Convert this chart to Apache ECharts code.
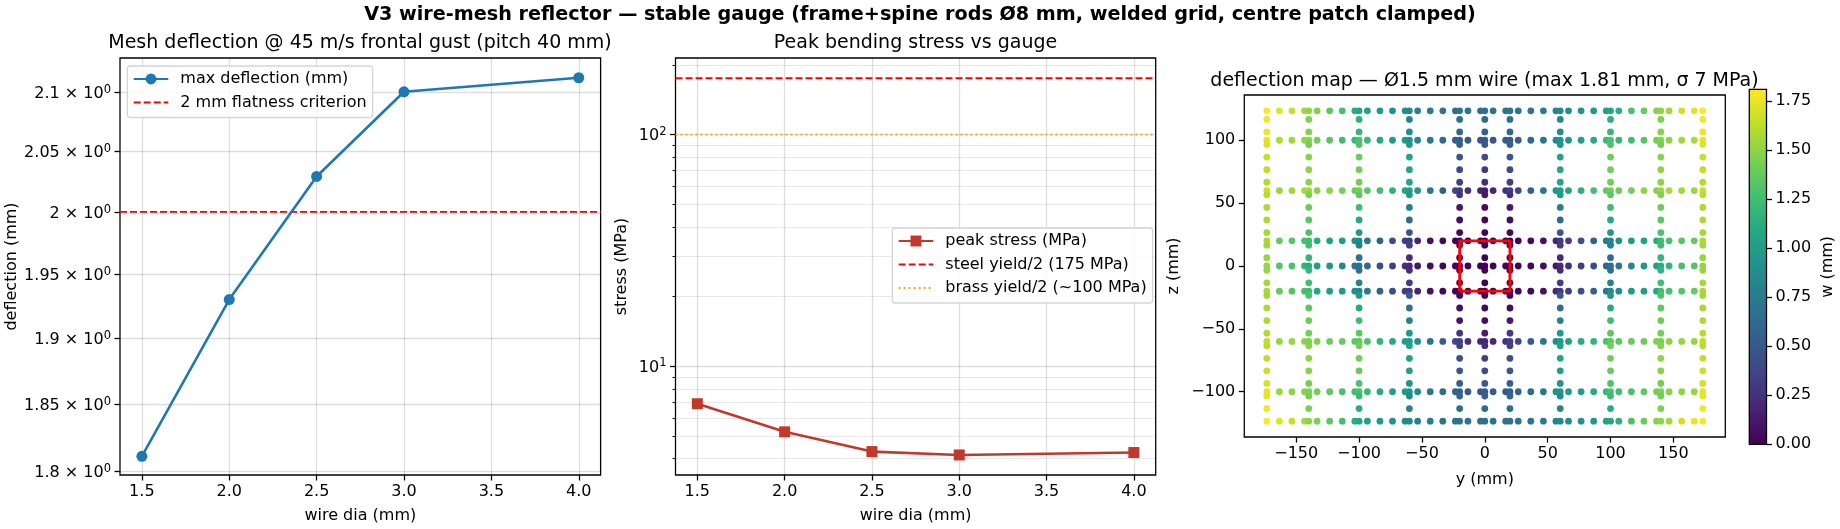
<!DOCTYPE html>
<html><head><meta charset="utf-8">
<style>html,body{margin:0;padding:0;background:#fff}#c{width:1840px;height:529px}</style>
<script src="https://cdn.jsdelivr.net/npm/echarts@6/dist/echarts.min.js"></script>
</head><body><div id="c"></div>
<script>
const wireDia=[1.5,2.0,2.5,3.0,4.0];
const maxDeflection=[1.811,1.93,2.029,2.1,2.112];
const peakStress=[6.9,5.22,4.29,4.15,4.25];
const flatnessLimit=2, steelLimit=175, brassLimit=100;
const wireTicks=[1.5,2,2.5,3,3.5,4];
const deflTicks=[1.8,1.85,1.9,1.95,2,2.05,2.1];
const stressMajor=[10,100];
const stressMinor=[4,5,6,7,8,9,20,30,40,50,60,70,80,90,200];
const mapTicksY=[-150,-100,-50,0,50,100,150];
const mapTicksZ=[-100,-50,0,50,100];
const cbTicks=[0,0.25,0.5,0.75,1,1.25,1.5,1.75];
const rowPosY=[-173.4,-163.4,-153.4,-143.4,-140,-133.4,-123.4,-113.4,-103.4,-100,-93.4,-83.4,-73.4,-63.4,-60,-53.4,-43.4,-33.4,-23.4,-20,-13.4,-3.4,0,6.6,16.6,20,26.6,36.6,46.6,56.6,60,66.6,76.6,86.6,96.6,100,106.6,116.6,126.6,136.6,140,146.6,156.6,166.6,173.4];
const rowZ=[123.4,100,60,20,0,-20,-60,-100,-123.4];
const rowW=[
[1.81,1.72,1.65,1.55,1.5,1.45,1.35,1.27,1.12,1.08,1.03,.97,.92,.87,.85,.8,.75,.71,.69,.68,.68,.67,.67,.67,.68,.68,.69,.71,.75,.8,.85,.87,.92,.97,1.03,1.08,1.14,1.29,1.38,1.47,1.5,1.55,1.68,1.75,1.81],
[1.75,1.58,1.55,1.5,1.48,1.42,1.33,1.25,1.2,1.3,1.22,1.1,1.0,.95,.92,.85,.72,.62,.55,.52,.5,.48,.48,.48,.5,.52,.55,.62,.72,.85,.92,.95,1.0,1.1,1.22,1.3,1.2,1.25,1.33,1.42,1.48,1.5,1.55,1.58,1.75],
[1.66,1.52,1.55,1.58,1.55,1.48,1.5,1.42,1.4,1.42,1.35,1.27,1.15,1.05,1.0,.95,.72,.55,.38,.33,.25,.18,.15,.18,.25,.33,.38,.55,.72,.95,1.0,1.05,1.15,1.27,1.35,1.42,1.4,1.42,1.5,1.48,1.55,1.58,1.55,1.52,1.66],
[1.58,1.38,1.33,1.28,1.25,1.12,1.05,.98,.9,.85,.72,.55,.42,.32,.3,.18,.08,.04,.02,.02,.01,0,0,0,.01,.02,.02,.04,.08,.18,.3,.32,.42,.55,.72,.85,.9,.98,1.05,1.12,1.25,1.28,1.33,1.38,1.58],
[1.52,1.32,1.28,1.18,1.12,1.02,.95,.85,.72,.65,.58,.42,.32,.25,.22,.12,.06,.03,.02,.02,.01,0,0,0,.01,.02,.02,.03,.06,.12,.22,.25,.32,.42,.58,.65,.72,.85,.95,1.02,1.12,1.18,1.28,1.32,1.52],
[1.58,1.38,1.33,1.28,1.25,1.08,1.02,.98,.9,.85,.72,.55,.42,.32,.3,.18,.08,.04,.02,.02,.01,0,0,0,.01,.02,.02,.04,.08,.18,.3,.32,.42,.55,.72,.85,.9,.98,1.02,1.08,1.25,1.28,1.33,1.38,1.58],
[1.63,1.52,1.52,1.5,1.45,1.45,1.4,1.38,1.35,1.35,1.3,1.18,1.1,1.0,.98,.88,.7,.52,.38,.35,.25,.2,.18,.2,.25,.35,.38,.52,.7,.88,.98,1.0,1.1,1.18,1.3,1.35,1.35,1.38,1.4,1.45,1.45,1.5,1.52,1.52,1.63],
[1.75,1.52,1.5,1.48,1.45,1.42,1.35,1.28,1.25,1.28,1.2,1.1,1.02,.98,.95,.88,.72,.65,.58,.55,.52,.5,.5,.5,.52,.55,.58,.65,.72,.88,.95,.98,1.02,1.1,1.2,1.28,1.25,1.28,1.35,1.42,1.45,1.48,1.5,1.52,1.75],
[1.81,1.72,1.65,1.55,1.5,1.45,1.35,1.27,1.12,1.08,1.03,.97,.92,.87,.85,.8,.75,.71,.69,.68,.68,.67,.67,.67,.68,.68,.69,.71,.75,.8,.85,.87,.92,.97,1.03,1.08,1.14,1.29,1.38,1.47,1.5,1.55,1.68,1.75,1.81]
];
const colPosZ=[116.6,106.6,96.6,86.6,76.6,66.6,56.6,46.6,36.6,26.6,16.6,6.6,-3.4,-13.4,-23.4,-33.4,-43.4,-53.4,-63.4,-73.4,-83.4,-93.4,-103.4,-113.4];
const colY=[-173.4,-140,-100,-60,-20,0,20,60,100,140,173.4];
const colW=[
[1.78,1.76,1.72,1.65,1.63,1.6,1.6,1.58,1.58,1.55,1.55,1.52,1.52,1.55,1.55,1.57,1.58,1.6,1.62,1.64,1.66,1.7,1.74,1.78],
[1.45,1.47,1.42,1.48,1.5,1.5,1.45,1.4,1.35,1.3,1.25,1.18,1.18,1.25,1.3,1.35,1.4,1.42,1.48,1.5,1.48,1.42,1.42,1.45],
[1.15,1.2,1.3,1.4,1.42,1.42,1.35,1.25,1.1,.95,.78,.65,.65,.8,.95,1.1,1.25,1.35,1.42,1.42,1.38,1.3,1.22,1.12],
[.82,.88,.95,1.05,1.08,1.08,.98,.78,.62,.48,.32,.22,.22,.32,.5,.65,.8,.98,1.05,1.05,1.02,.92,.85,.8],
[.65,.6,.55,.48,.4,.33,.25,.12,.06,.03,.01,0,0,.01,.03,.06,.12,.28,.35,.42,.5,.55,.6,.65],
[.62,.55,.5,.42,.3,.22,.12,.06,.03,.01,0,0,0,0,.01,.03,.06,.14,.24,.32,.42,.5,.55,.62],
[.65,.6,.55,.48,.4,.33,.25,.12,.06,.03,.01,0,0,.01,.03,.06,.12,.28,.35,.42,.5,.55,.6,.65],
[.82,.88,.95,1.05,1.08,1.08,.98,.78,.62,.48,.32,.22,.22,.32,.5,.65,.8,.98,1.05,1.05,1.02,.92,.85,.8],
[1.15,1.2,1.3,1.4,1.42,1.42,1.35,1.25,1.1,.95,.78,.65,.65,.8,.95,1.1,1.25,1.35,1.42,1.42,1.38,1.3,1.22,1.12],
[1.45,1.47,1.42,1.48,1.5,1.5,1.45,1.4,1.35,1.3,1.25,1.18,1.18,1.25,1.3,1.35,1.4,1.42,1.48,1.5,1.48,1.42,1.42,1.45],
[1.78,1.76,1.72,1.65,1.63,1.6,1.6,1.58,1.58,1.55,1.55,1.52,1.52,1.55,1.55,1.57,1.58,1.6,1.62,1.64,1.66,1.7,1.74,1.78]
];
const patchY=[-20,-20,20,20,-20];
const patchZ=[-20,20,20,-20,-20];
const viridis=['#440154','#482475','#414487','#355f8d','#2a788e','#21918c','#22a884','#44bf70','#7ad151','#bddf26','#fde725'];

const FONT='DejaVu Sans';
const meshPts=[];
rowZ.forEach((z,i)=>rowPosY.forEach((y,j)=>meshPts.push([y,z,rowW[i][j]])));
colY.forEach((y,i)=>colPosZ.forEach((z,j)=>meshPts.push([y,z,colW[i][j]])));

const G='rgba(0,0,0,0.13)', G2='rgba(0,0,0,0.10)';
const tx={fontFamily:FONT,color:'#000',fontSize:16};
const SP=1.28;
function xAxis(gi,min,max,name,ticks,fmt,grid,gap){return{type:'value',gridIndex:gi,min,max,name,nameLocation:'middle',nameGap:gap,nameTextStyle:tx,
 axisLine:{show:false,onZero:false},axisTick:{show:true,length:5.5,inside:false,customValues:ticks,lineStyle:{color:'#000',width:SP}},
 axisLabel:Object.assign({customValues:ticks,formatter:fmt,margin:9,hideOverlap:false,showMinLabel:true,showMaxLabel:true},tx),
 splitLine:{show:grid,lineStyle:{color:G,width:1.3}}};}
const minus=v=>String(v).replace('-','\u2212');
const f1=v=>Number(v).toFixed(1);
const richSup={a:Object.assign({},tx,{lineHeight:20}),s:{fontFamily:FONT,color:'#000',fontSize:11.5,lineHeight:14,verticalAlign:'top'}};

const titleStyle={fontFamily:FONT,fontWeight:'normal',fontSize:19,color:'#000'};
const titles=[
 {text:'V3 wire-mesh reflector \u2014 stable gauge (frame+spine rods \u00d88 mm, welded grid, centre patch clamped)',left:920,top:6,padding:0,textAlign:'center',textStyle:{fontFamily:FONT,fontWeight:'bold',fontSize:19.2,color:'#000'}},
 {text:'Mesh deflection @ 45 m/s frontal gust (pitch 40 mm)',left:360,top:34,padding:0,textAlign:'center',textStyle:titleStyle},
 {text:'Peak bending stress vs gauge',left:915.5,top:34,padding:0,textAlign:'center',textStyle:titleStyle},
 {text:'deflection map \u2014 \u00d81.5 mm wire (max 1.81 mm, \u03c3 7 MPa)',left:1484.5,top:72,padding:0,textAlign:'center',textStyle:titleStyle}
];
const legendBase={orient:'vertical',padding:[5,6,7,5.4],itemGap:7.5,itemWidth:34.6,itemHeight:13.7,borderColor:'#d5d5d5',borderWidth:1.3,borderRadius:3,backgroundColor:'rgba(255,255,255,0.8)',textStyle:Object.assign({},tx,{padding:[0,0,0,7]}),selectedMode:false};
const noMark={itemStyle:{opacity:0}};
const X1=[1.375,4.125];
const option={animation:false,backgroundColor:'#fff',title:titles,
 grid:[
  {left:120,top:58,width:480.6,height:417,show:true,backgroundColor:'transparent',borderColor:'#000',borderWidth:SP},
  {left:675.5,top:58,width:480.2,height:417,show:true,backgroundColor:'transparent',borderColor:'#000',borderWidth:SP},
  {left:1244.3,top:95,width:481,height:342,show:true,backgroundColor:'transparent',borderColor:'#000',borderWidth:SP},
  {left:1749.3,top:89.3,width:17.2,height:355,show:true,backgroundColor:'transparent',borderColor:'#000',borderWidth:SP,z:10}
 ],
 xAxis:[
  xAxis(0,X1[0],X1[1],'wire dia (mm)',wireTicks,f1,true,33),
  xAxis(1,X1[0],X1[1],'wire dia (mm)',wireTicks,f1,true,33),
  xAxis(2,-191.3,191.3,'y (mm)',mapTicksY,minus,false,35),
  {type:'value',gridIndex:3,min:0,max:1,show:false}
 ],
 yAxis:[
  {type:'log',logBase:10,gridIndex:0,min:1.7973,max:2.129,name:'deflection (mm)',nameLocation:'middle',nameGap:98,nameTextStyle:tx,
   axisLine:{show:false,onZero:false},axisTick:{show:true,length:5.5,customValues:deflTicks,lineStyle:{color:'#000',width:SP}},
   axisLabel:Object.assign({customValues:deflTicks,margin:9,padding:[4,0,0,0],formatter:v=>'{a|'+(+v)+' \u00d7 10}{s|0}',rich:richSup,hideOverlap:false},tx),
   splitLine:{show:true,lineStyle:{color:G,width:1.3}}},
  {type:'log',logBase:10,gridIndex:1,min:3.4,max:214,name:'stress (MPa)',nameLocation:'middle',nameGap:46,nameTextStyle:tx,
   axisLine:{show:false,onZero:false},axisTick:{show:true,length:5.5,customValues:stressMajor,lineStyle:{color:'#000',width:SP}},
   axisLabel:Object.assign({customValues:stressMajor,margin:9,padding:[2,0,0,0],formatter:v=>'{a|10}{s|'+Math.round(Math.log10(v))+'}',rich:richSup,hideOverlap:false},tx),
   splitLine:{show:true,lineStyle:{color:G,width:1.3}}},
  {type:'log',logBase:10,gridIndex:1,min:3.4,max:214,position:'left',
   axisLine:{show:false,onZero:false},axisTick:{show:true,length:3,customValues:stressMinor,lineStyle:{color:'#000',width:.9}},
   axisLabel:{show:false},splitLine:{show:true,lineStyle:{color:G2,width:.9}}},
  {type:'value',gridIndex:2,min:-136,max:136,name:'z (mm)',nameLocation:'middle',nameGap:62,nameTextStyle:tx,
   axisLine:{show:false,onZero:false},axisTick:{show:true,length:5.5,customValues:mapTicksZ,lineStyle:{color:'#000',width:SP}},
   axisLabel:Object.assign({customValues:mapTicksZ,formatter:minus,margin:9,hideOverlap:false},tx),splitLine:{show:false}},
  {type:'value',gridIndex:3,min:0,max:1.811,position:'right',name:'w (mm)',nameLocation:'middle',nameGap:53,nameRotate:90,nameTextStyle:tx,
   axisLine:{show:false,onZero:false},axisTick:{show:true,length:5.5,customValues:cbTicks,lineStyle:{color:'#000',width:SP}},
   axisLabel:Object.assign({customValues:cbTicks,formatter:v=>Number(v).toFixed(2),margin:9,hideOverlap:false},tx),splitLine:{show:false}}
 ],
 legend:[
  Object.assign({},legendBase,{left:127.3,top:66,data:['max deflection (mm)',Object.assign({name:'2 mm flatness criterion'},noMark)]}),
  Object.assign({},legendBase,{left:892.3,top:228,data:['peak stress (MPa)',Object.assign({name:'steel yield/2 (175 MPa)'},noMark),Object.assign({name:'brass yield/2 (~100 MPa)'},noMark)]})
 ],
 visualMap:{type:'continuous',min:0,max:1.81,dimension:2,seriesIndex:5,left:1749.3,top:89.3,itemWidth:17.2,itemHeight:355,padding:0,calculable:false,realtime:false,text:null,hoverLink:false,inRange:{color:viridis},textStyle:{color:'transparent'},z:4},
 series:[
  {name:'max deflection (mm)',type:'line',xAxisIndex:0,yAxisIndex:0,data:wireDia.map((x,i)=>[x,maxDeflection[i]]),symbol:'circle',symbolSize:11,itemStyle:{color:'#1f77b4'},lineStyle:{color:'#1f77b4',width:2.6},z:5},
  {name:'2 mm flatness criterion',type:'line',xAxisIndex:0,yAxisIndex:0,data:X1.map(x=>[x,flatnessLimit]),symbol:'none',itemStyle:{color:'#ff0000'},lineStyle:{color:'#ff0000',width:1.9,type:[7,3]},z:4},
  {name:'peak stress (MPa)',type:'line',xAxisIndex:1,yAxisIndex:1,data:wireDia.map((x,i)=>[x,peakStress[i]]),symbol:'rect',symbolSize:11,itemStyle:{color:'#c0392b'},lineStyle:{color:'#c0392b',width:2.6},z:5},
  {name:'steel yield/2 (175 MPa)',type:'line',xAxisIndex:1,yAxisIndex:1,data:X1.map(x=>[x,steelLimit]),symbol:'none',itemStyle:{color:'#ff0000'},lineStyle:{color:'#ff0000',width:1.9,type:[7,3]},z:4},
  {name:'brass yield/2 (~100 MPa)',type:'line',xAxisIndex:1,yAxisIndex:1,data:X1.map(x=>[x,brassLimit]),symbol:'none',itemStyle:{color:'#ffa500'},lineStyle:{color:'#ffa500',width:1.9,type:[1.9,3.1]},z:4},
  {name:'mesh',type:'scatter',xAxisIndex:2,yAxisIndex:3,data:meshPts,symbol:'circle',symbolSize:6.8,itemStyle:{opacity:1},z:3},
  {name:'patch',type:'line',xAxisIndex:2,yAxisIndex:3,data:patchY.map((y,i)=>[y,patchZ[i]]),symbol:'none',lineStyle:{color:'#ff0000',width:2.8},z:6}
 ]
};
const chart=echarts.init(document.getElementById('c'),null,{renderer:'canvas'});
chart.setOption(option);
</script></body></html>
